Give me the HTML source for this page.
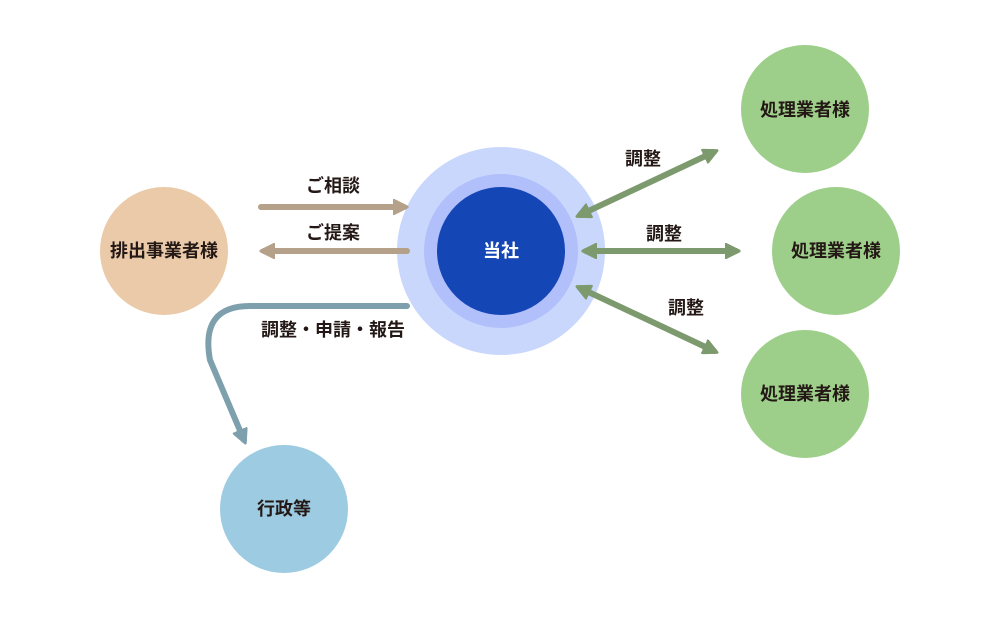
<!DOCTYPE html><html><head><meta charset="utf-8"><style>body{margin:0;background:#fff}svg text{font-family:"Liberation Sans","Noto Sans CJK JP",sans-serif;font-weight:bold;font-size:18px;fill:#231815;text-anchor:middle}</style></head><body>
<svg width="1000" height="620" viewBox="0 0 1000 620">
<defs>
<marker id="b" viewBox="0 0 10 10" refX="7" refY="5" markerWidth="2.6" markerHeight="2.6" orient="auto-start-reverse"><path d="M0,0L10,5L0,10z" fill="#b5a08a" stroke="#b5a08a" stroke-linejoin="round"/></marker>
<marker id="g" viewBox="0 0 10 10" refX="7" refY="5" markerWidth="2.6" markerHeight="2.6" orient="auto-start-reverse"><path d="M0,0L10,5L0,10z" fill="#7c9a6e" stroke="#7c9a6e" stroke-linejoin="round"/></marker>
<marker id="s" viewBox="0 0 10 10" refX="7" refY="5" markerWidth="2.6" markerHeight="2.6" orient="auto-start-reverse"><path d="M0,0L10,5L0,10z" fill="#7ea0ad" stroke="#7ea0ad" stroke-linejoin="round"/></marker>
</defs>
<circle cx="501" cy="251" r="104" fill="#c9d7fd"/>
<circle cx="501" cy="251" r="77" fill="#b1bffb"/>
<circle cx="501" cy="251" r="64" fill="#1546b6"/>
<text x="501" y="257" style="fill:#fff">当社</text>
<circle cx="164" cy="251" r="64" fill="#eacaa8"/>
<text x="164" y="257">排出事業者様</text>
<circle cx="805" cy="109" r="64" fill="#9ecf8a"/>
<text x="805" y="116">処理業者様</text>
<circle cx="836" cy="251" r="64" fill="#9ecf8a"/>
<text x="836" y="257">処理業者様</text>
<circle cx="805" cy="394" r="64" fill="#9ecf8a"/>
<text x="805" y="400">処理業者様</text>
<circle cx="284" cy="509" r="64" fill="#9dcbe2"/>
<text x="284" y="515">行政等</text>
<g stroke-width="6" stroke-linecap="round" fill="none">
<path d="M261,207H404" stroke="#b5a08a" marker-end="url(#b)"/>
<path d="M407,251H264" stroke="#b5a08a" marker-end="url(#b)"/>
<path d="M580,215L714,152" stroke="#7c9a6e" marker-end="url(#g)" marker-start="url(#g)"/>
<path d="M586,251H736" stroke="#7c9a6e" marker-end="url(#g)" marker-start="url(#g)"/>
<path d="M580,288L714,351" stroke="#7c9a6e" marker-end="url(#g)" marker-start="url(#g)"/>
<path d="M407,306H250Q200,306 210,360L244,440" stroke="#7ea0ad" marker-end="url(#s)"/>
</g>
<text x="333" y="192">ご相談</text>
<text x="333" y="239">ご提案</text>
<text x="333" y="336">調整・申請・報告</text>
<text x="643" y="165">調整</text>
<text x="664" y="240">調整</text>
<text x="686" y="314">調整</text>
</svg></body></html>
